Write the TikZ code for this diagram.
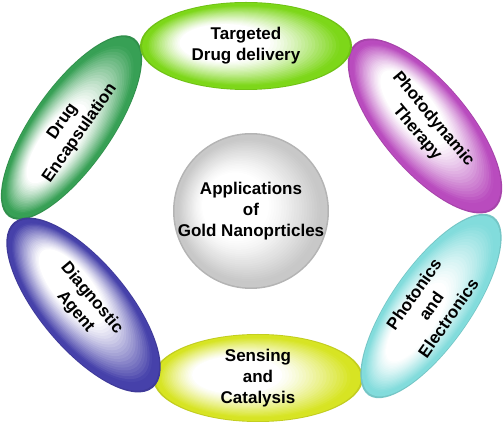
\documentclass[tikz,border=0pt]{standalone}
\usepackage{fontspec}
\setmainfont{Liberation Sans}
\usetikzlibrary{shapes.geometric}

\definecolor{limegr}{RGB}{125,215,25}
\definecolor{orchid}{RGB}{185,75,190}
\definecolor{aqua}{RGB}{130,220,220}
\definecolor{lemon}{RGB}{215,228,35}
\definecolor{indigo}{RGB}{70,65,170}
\definecolor{leaf}{RGB}{55,160,85}
\definecolor{pearl}{RGB}{200,200,200}

\begin{document}
\begin{tikzpicture}[x=1pt, y=1pt,
    label/.style={align=center, inner sep=0pt,
        font=\bfseries\fontsize{17}{21}\selectfont},
    pics/petal/.style args={#1/#2/#3}{code={
        \colorlet{petalcol}{#1}
        \fill[petalcol!90!black] (0,0) ellipse (#2 and #3);
        \foreach \k in {0,...,40}{
            \pgfmathsetmacro\s{0.98*(1-\k/41)}
            \pgfmathtruncatemacro\p{100*(max(0,min(1,(\s-0.42)/0.5)))^1.2}
            \fill[petalcol!\p!white] ({-(0.98-\s)*0.36*#2},{(0.98-\s)*0.12*#3}) ellipse ({\s*#2} and {\s*#3});
        }
    }}]
    \useasboundingbox (0,0) rectangle (503,425);

    % core
    \pic at (251,214) {petal=pearl/78/78};
    \node[label] (gold) at (251,214) {Applications\\of\\Gold Nanoprticles};

    % applications round the core
    \pic at (258,47) {petal=lemon/105/44};
    \node[label] (sensing) at (258,47) {Sensing\\and\\Catalysis};
    \pic[rotate=55] at (431,119) {petal=aqua/109/40};
    \node[label, rotate=55] (photonics) at (431,119) {Photonics\\and\\Electronics};
    \pic[rotate=-50] at (425,299) {petal=orchid/108/44};
    \node[label, rotate=-50] (photodyn) at (425,299) {Photodynamic\\Therapy};
    \pic[rotate=55] at (71.5,297.5) {petal=leaf/109/40};
    \node[label, rotate=55] (encaps) at (71.5,297.5) {Drug\\Encapsulation};
    \pic[rotate=-50] at (83.5,120) {petal=indigo/108/44};
    \node[label, rotate=-50] (diagnostic) at (83.5,120) {Diagnostic\\Agent};
    \pic at (246,379) {petal=limegr/106/44};
    \node[label] (targeted) at (246,379) {Targeted\\Drug delivery};
\end{tikzpicture}
\end{document}
